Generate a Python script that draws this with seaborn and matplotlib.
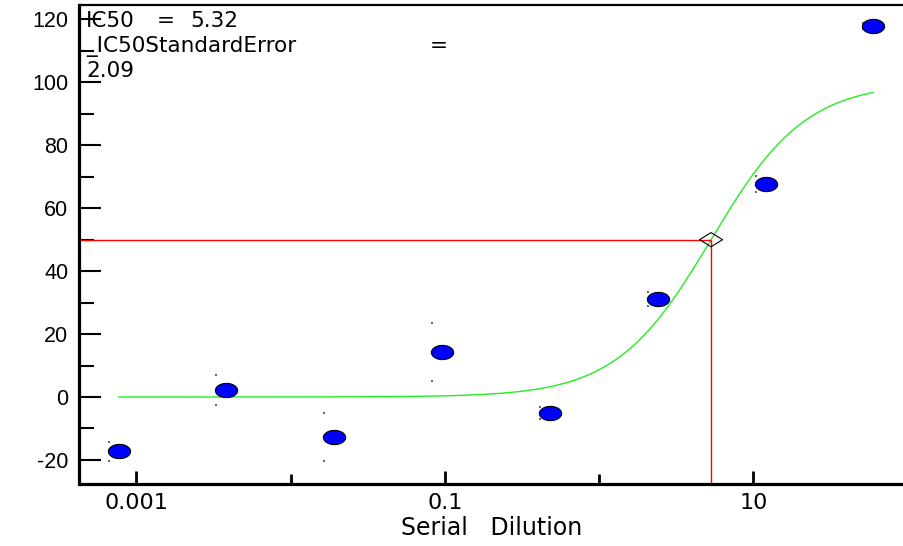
import numpy as np
import pandas as pd
import matplotlib
matplotlib.use("Agg")
import matplotlib.pyplot as plt
from matplotlib.path import Path
from matplotlib.ticker import FixedLocator, FixedFormatter, MultipleLocator
from matplotlib.transforms import ScaledTranslation
import seaborn as sns

# Serial dilution series (concentration) and measured response
concentration = [0.000768, 0.00384, 0.0192, 0.096, 0.48, 2.4, 12.0, 60.0]
response_mean = [-17.2, 2.2, -12.7, 14.3, -5.1, 31.2, 67.7, 118.0]
response_sd = [3.0, 4.8, 7.5, 9.2, 1.9, 2.2, 2.4, 1.0]

# Four-parameter logistic fit
ic50 = 5.32
ic50_se = 2.09
fit_bottom = 0.0
fit_top = 100.0
fit_hill = 1.41
half_response = 50.0

x_ticks = [0.001, 0.1, 10]
x_tick_labels = ["0.001", "0.1", "10"]
x_minor_ticks = [0.01, 1]
y_ticks = [-20, 0, 20, 40, 60, 80, 100, 120]

sns.set_style("ticks")
plt.rcParams["font.family"] = ["DejaVu Sans"]
plt.rcParams["axes.unicode_minus"] = False
plt.rcParams["text.color"] = "black"
plt.rcParams["axes.labelcolor"] = "black"

fig = plt.figure(figsize=(9.04, 5.46), dpi=100)
ax = fig.add_axes([79.5 / 904, 62.5 / 546, 1 - 79.5 / 904, 478.5 / 546])

ax.set_xscale("log")
ax.set_xlim(4.28e-4, 94.8)
ax.set_ylim(-27.5, 124.6)

# fitted dose-response curve over the measured range
curve_x = np.logspace(np.log10(min(concentration)), np.log10(max(concentration)), 400)
curve_y = fit_bottom + (fit_top - fit_bottom) / (1 + (ic50 / curve_x) ** fit_hill)
curve = pd.DataFrame({"conc": curve_x, "resp": curve_y})
sns.lineplot(data=curve, x="conc", y="resp", color="#22ee22", linewidth=1.0,
             sort=False, ax=ax, zorder=2)

# IC50 guide lines
ax.hlines(half_response, ax.get_xlim()[0], ic50, color="#ff0000", linewidth=1.0, zorder=2)
ax.vlines(ic50, ax.get_ylim()[0], half_response, color="#ff0000", linewidth=1.0, zorder=2)

diamond = Path([(-1, 0), (0, 0.62), (1, 0), (0, -0.62), (-1, 0)],
               [Path.MOVETO, Path.LINETO, Path.LINETO, Path.LINETO, Path.CLOSEPOLY])
ax.scatter([ic50], [half_response], marker=diamond, s=16.5 ** 2,
           facecolors="none", edgecolors="black", linewidths=0.8, zorder=4)

# spread markers beside each mean
data = pd.DataFrame({"conc": concentration, "mean": response_mean, "sd": response_sd})
shift = ax.transData + ScaledTranslation(-0.10, 0, fig.dpi_scale_trans)
ax.scatter(data["conc"], data["mean"] + data["sd"], marker="s", s=1.2,
           color="#666666", linewidths=0, transform=shift, zorder=3)
ax.scatter(data["conc"], data["mean"] - data["sd"], marker="s", s=1.2,
           color="#666666", linewidths=0, transform=shift, zorder=3)

t = np.linspace(0, 2 * np.pi, 60)
ellipse = Path(np.column_stack([np.cos(t), 0.64 * np.sin(t)]), closed=True)
sns.scatterplot(data=data, x="conc", y="mean", marker=ellipse, s=16 ** 2,
                color="#0000ff", edgecolor="black", linewidth=0.8, ax=ax, zorder=5)

# axes styling
for side in ["left", "bottom"]:
    ax.spines[side].set_linewidth(2.3)
ax.spines["top"].set_linewidth(1.6)
ax.spines["right"].set_visible(False)
for sp in ax.spines.values():
    sp.set_color("black")

ax.yaxis.set_major_locator(FixedLocator(y_ticks))
ax.yaxis.set_minor_locator(MultipleLocator(10))
ax.xaxis.set_major_locator(FixedLocator(x_ticks))
ax.xaxis.set_major_formatter(FixedFormatter(x_tick_labels))
ax.xaxis.set_minor_locator(FixedLocator(x_minor_ticks))
ax.xaxis.set_minor_formatter(FixedFormatter([]))

ax.tick_params(axis="y", which="major", direction="in", length=15.5, width=1.5,
               pad=8, labelsize=15.5, colors="black",
               labelfontfamily="Liberation Sans")
ax.tick_params(axis="y", which="minor", direction="in", length=11, width=1.5,
               colors="black")
ax.tick_params(axis="x", which="major", direction="in", length=9.5, width=2.0,
               pad=7, labelsize=16, colors="black")
ax.tick_params(axis="x", which="minor", direction="in", length=7.5, width=2.0,
               colors="black")

ax.set_xlabel("Serial   Dilution", fontsize=17, labelpad=2, color="black")
ax.set_ylabel("")

# fit summary text
fs = 15.5
fig.text(86 / 904, 1 - 27 / 546, "IC50", fontsize=fs, va="baseline", ha="left")
fig.text(157 / 904, 1 - 27 / 546, "=", fontsize=fs, va="baseline", ha="left")
fig.text(190 / 904, 1 - 27 / 546, f"{ic50:.2f}", fontsize=fs, va="baseline", ha="left")
fig.text(86 / 904, 1 - 52 / 546, "_IC50StandardError", fontsize=fs, va="baseline", ha="left")
fig.text(430 / 904, 1 - 52 / 546, "=", fontsize=fs, va="baseline", ha="left")
fig.text(86 / 904, 1 - 77 / 546, f"{ic50_se:.2f}", fontsize=fs, va="baseline", ha="left")

fig.savefig("out.png", dpi=100, facecolor="white")
